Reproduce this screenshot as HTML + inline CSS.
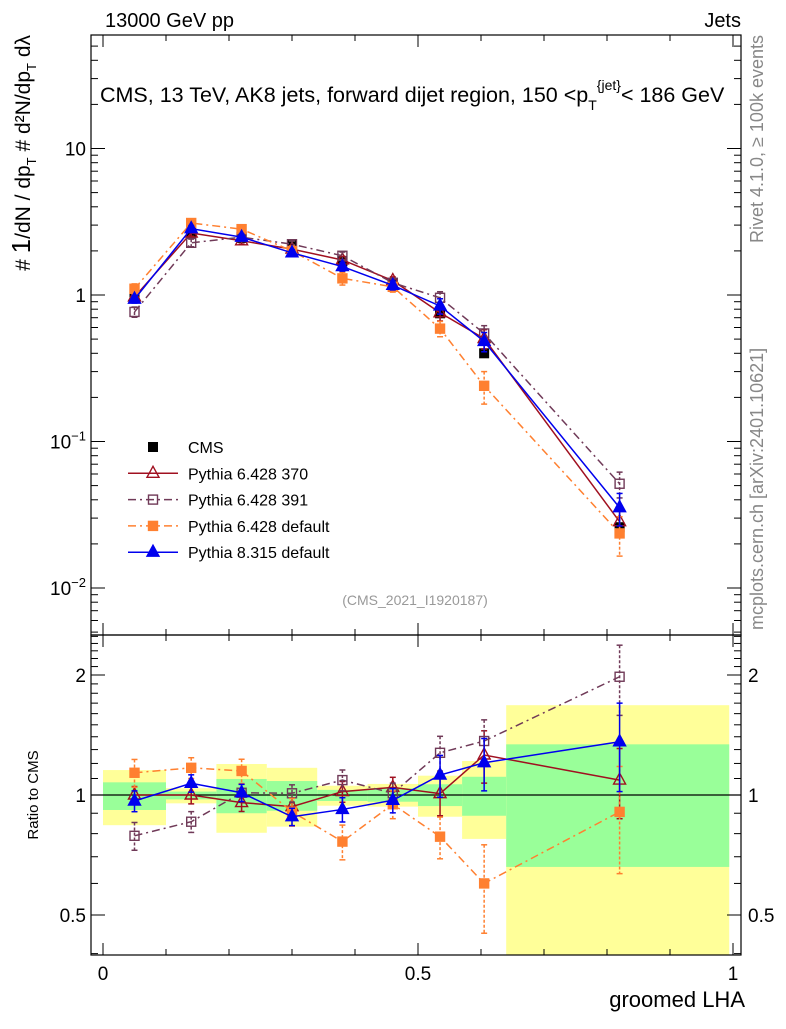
<!DOCTYPE html>
<html><head><meta charset="utf-8"><style>
body{margin:0;background:#fff;width:786px;height:1024px;overflow:hidden}
svg{font-family:"Liberation Sans",Arial,sans-serif}
</style></head><body>
<svg id="c" width="786" height="1024" xmlns="http://www.w3.org/2000/svg"></svg>
<script>
const categories=[0.05,0.14,0.22,0.30,0.38,0.46,0.535,0.605,0.82];
const binEdges=[0,0.1,0.18,0.26,0.34,0.42,0.5,0.57,0.64,0.994];
const cmsValues=[0.97,2.65,2.45,2.2,1.7,1.2,0.75,0.4,0.026];
const yellowHi=[1.155,1.04,1.196,1.17,1.055,1.066,1.118,1.217,1.68];
const yellowLo=[0.84,0.953,0.804,0.833,0.94,0.935,0.882,0.776,0.35];
const greenHi=[1.076,1.02,1.097,1.084,1.03,1.04,1.064,1.111,1.34];
const greenLo=[0.917,0.975,0.9,0.913,0.966,0.962,0.938,0.887,0.66];
const ratio370=[1.0,1.0,0.957,0.935,1.02,1.045,1.008,1.26,1.09];
const ratio391=[0.79,0.857,1.013,1.01,1.09,1.01,1.276,1.366,1.98];
const ratio6def=[1.137,1.17,1.149,0.908,0.764,0.948,0.786,0.6,0.907];
const ratio8def=[0.966,1.07,1.013,0.882,0.92,0.97,1.122,1.205,1.36];
const err370=[0.05,0.05,0.05,0.05,0.06,0.06,0.12,0.15,0.2];
const err391=[0.08,0.06,0.05,0.05,0.06,0.06,0.1,0.13,0.2];
const err6def=[0.08,0.06,0.07,0.08,0.1,0.08,0.12,0.25,0.3];
const err8def=[0.06,0.05,0.05,0.05,0.07,0.07,0.12,0.15,0.25];

const NS="http://www.w3.org/2000/svg";
const svg=document.getElementById('c');
function el(t,a,p){const e=document.createElementNS(NS,t);for(const k in a)e.setAttribute(k,a[k]);(p||svg).appendChild(e);return e;}
const X=v=>103+630*v;
const Ym=v=>295-146.5*Math.log10(v);
const Yr=r=>795-398.6*Math.log10(r);
const L=91,R=741,T=35,M=635,B=955;

for(let i=0;i<categories.length;i++){
  const y=el('rect',{x:X(binEdges[i]),y:Math.max(M,Yr(yellowHi[i])),width:X(binEdges[i+1])-X(binEdges[i]),height:Math.min(B,Yr(yellowLo[i]))-Math.max(M,Yr(yellowHi[i])),fill:'#ffff99'});
  
  
  const g=el('rect',{x:X(binEdges[i]),y:Yr(greenHi[i]),width:X(binEdges[i+1])-X(binEdges[i]),height:Yr(greenLo[i])-Yr(greenHi[i]),fill:'#99ff99'});
  
  
}
el('line',{x1:L,x2:R,y1:Yr(1),y2:Yr(1),stroke:'#000','stroke-width':1.2});

el('rect',{x:L,y:T,width:R-L,height:M-T,fill:'none',stroke:'#000','stroke-width':1.2});
el('rect',{x:L,y:M,width:R-L,height:B-M,fill:'none',stroke:'#000','stroke-width':1.2});

for(let k=0;k<=10;k++){const v=k/10,x=X(v),maj=k%5==0,h=maj?12:6;
  [T,M].forEach(y=>el('line',{x1:x,x2:x,y1:y,y2:y+h,stroke:'#000'}));
  [M,B].forEach(y=>el('line',{x1:x,x2:x,y1:y,y2:y-h,stroke:'#000'}));
}
[[0,'0'],[0.5,'0.5'],[1,'1']].forEach(([v,s])=>{const t=el('text',{x:X(v),y:980,'font-size':19,'text-anchor':'middle'});t.textContent=s;});
for(let d=-3;d<=1;d++)for(let m=1;m<10;m++){const v=m*Math.pow(10,d),y=Ym(v);if(y<T||y>M)continue;const h=m==1?14:7;
  el('line',{x1:L,x2:L+h,y1:y,y2:y,stroke:'#000'});el('line',{x1:R,x2:R-h,y1:y,y2:y,stroke:'#000'});}
function ylab(y,html){const t=el('text',{x:86,y:y+7,'font-size':19,'text-anchor':'end'});t.innerHTML=html;}
ylab(Ym(10),'10');ylab(Ym(1),'1');
ylab(Ym(0.1),'10<tspan dy="-8" font-size="13">−1</tspan>');
ylab(Ym(0.01),'10<tspan dy="-8" font-size="13">−2</tspan>');
[0.4,0.5,0.6,0.7,0.8,0.9,1,1.5,2,2.5].forEach(r=>{const y=Yr(r);if(y<M||y>B)return;const maj=[0.5,1,2].includes(r),h=maj?14:7;
  el('line',{x1:L,x2:L+h,y1:y,y2:y,stroke:'#000'});el('line',{x1:R,x2:R-h,y1:y,y2:y,stroke:'#000'});});
[1.1,1.2,1.3,1.4,1.6,1.7,1.8,1.9,2.1,2.2,2.3,2.4].forEach(r=>{const y=Yr(r);el('line',{x1:L,x2:L+7,y1:y,y2:y,stroke:'#000'});el('line',{x1:R,x2:R-7,y1:y,y2:y,stroke:'#000'});});
[[2,'2'],[1,'1'],[0.5,'0.5']].forEach(([r,s])=>{
  const a=el('text',{x:86,y:Yr(r)+7,'font-size':19,'text-anchor':'end'});a.textContent=s;
  const b=el('text',{x:748,y:Yr(r)+7,'font-size':19});b.textContent=s;});

const series=[
 {name:'pythia-6428-370',r:ratio370,e:err370,c:'#a01020',dash:'',mk:'tri-open'},
 {name:'pythia-6428-391',r:ratio391,e:err391,c:'#703a58',dash:'8,4,2,4',mk:'sq-open'},
 {name:'pythia-6428-default',r:ratio6def,e:err6def,c:'#ff8030',dash:'8,4,2,4',mk:'sq-fill'},
 {name:'pythia-8315-default',r:ratio8def,e:err8def,c:'#0000ee',dash:'',mk:'tri-fill'}];
function marker(x,y,mk,c,g){
  if(mk.startsWith('tri'))el('polygon',{points:`${x},${y-7} ${x-6},${y+4} ${x+6},${y+4}`,fill:mk.endsWith('fill')?c:'#fff','fill-opacity':mk.endsWith('fill')?1:0,stroke:c,'stroke-width':1.4},g);
  else el('rect',{x:x-4.5,y:y-4.5,width:9,height:9,fill:mk.endsWith('fill')?c:'none',stroke:c,'stroke-width':1.4},g);
}
categories.forEach((v,i)=>{const r=el('rect',{x:X(v)-5,y:Ym(cmsValues[i])-5,width:10,height:10,fill:'#000'});});
series.forEach(s=>{
  ['main','ratio'].forEach(panel=>{
    const g=el('g',{});
    
    
    const fy=panel=='main'?(i=>Ym(s.r[i]*cmsValues[i])):(i=>Yr(s.r[i]));
    const fyv=panel=='main'?(i,f)=>Ym(s.r[i]*cmsValues[i]*f):(i,f)=>Yr(s.r[i]*f);
    el('polyline',{points:categories.map((v,i)=>X(v)+','+fy(i)).join(' '),fill:'none',stroke:s.c,'stroke-width':1.5,'stroke-dasharray':s.dash},g);
    categories.forEach((v,i)=>{const x=X(v),y1=fyv(i,1+s.e[i]),y2=fyv(i,1-s.e[i]);
      el('line',{x1:x,x2:x,y1:y1,y2:y2,stroke:s.c,'stroke-width':1.5,'stroke-dasharray':s.dash?'3,2':''},g);
      el('line',{x1:x-3,x2:x+3,y1:y1,y2:y1,stroke:s.c,'stroke-width':1.5},g);
      el('line',{x1:x-3,x2:x+3,y1:y2,y2:y2,stroke:s.c,'stroke-width':1.5},g);
      marker(x,fy(i),s.mk,s.c,g);});
  });
});

const lg=el('g',{});
const labels=['CMS','Pythia 6.428 370','Pythia 6.428 391','Pythia 6.428 default','Pythia 8.315 default'];
labels.forEach((s,i)=>{const y=447+i*26.3;
  if(i==0)el('rect',{x:148,y:y-5,width:10,height:10,fill:'#000'},lg);
  else{const se=series[i-1];el('line',{x1:128,x2:178,y1:y,y2:y,stroke:se.c,'stroke-width':1.5,'stroke-dasharray':se.dash},lg);marker(153,y,se.mk,se.c,lg);}
  const t=el('text',{x:188,y:y+6,'font-size':16},lg);t.textContent=s;});

function txt(x,y,s,a,name){const t=el('text',Object.assign({x:x,y:y},a));t.innerHTML=s;return t;}
txt(105,27,'13000 GeV pp',{'font-size':20},'beam-label');
txt(741,27,'Jets',{'font-size':20,'text-anchor':'end'},'process-label');
txt(100,102,'CMS, 13 TeV, AK8 jets, forward dijet region, 150 &lt;p<tspan dy="8" font-size="14">T</tspan><tspan dy="-20" font-size="14">{jet}</tspan><tspan dy="12">&lt; 186 GeV</tspan>',{'font-size':21.5},'plot-title');
txt(415,605,'(CMS_2021_I1920187)',{'font-size':14,'fill':'#999','text-anchor':'middle'},'analysis-id');
txt(745,1007,'groomed LHA',{'font-size':22,'text-anchor':'end'},'x-axis-title');
txt(0,0,'Ratio to CMS',{'font-size':15,'text-anchor':'middle',transform:'translate(38,795) rotate(-90)'},'ratio-axis-title');
txt(0,0,'Rivet 4.1.0, ≥ 100k events',{'font-size':18,'fill':'#888','text-anchor':'end',transform:'translate(763,35) rotate(-90)'},'rivet-version');
txt(0,0,'mcplots.cern.ch [arXiv:2401.10621]',{'font-size':18,'fill':'#888','text-anchor':'start',transform:'translate(763,630) rotate(-90)'},'mcplots-credit');
txt(0,0,'# <tspan font-size="26">1</tspan>/dN / dp<tspan font-size="13" dy="6">T</tspan><tspan dy="-6"> # d²N/dp</tspan><tspan font-size="13" dy="6">T</tspan><tspan dy="-6"> dλ</tspan>',{'font-size':21,'text-anchor':'end',transform:'translate(30,35) rotate(-90)'},'y-axis-title');
</script>
</body></html>
